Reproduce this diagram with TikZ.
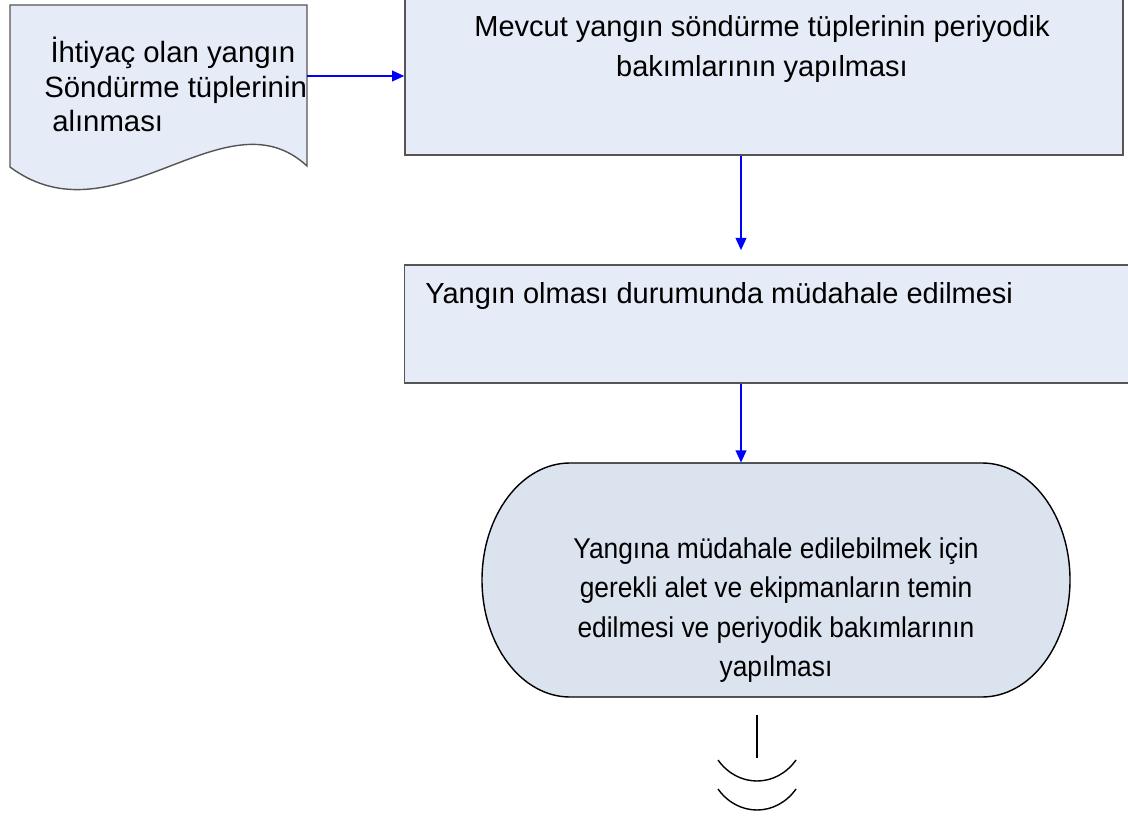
\documentclass[tikz,border=0pt]{standalone}
\usepackage{fontspec}
\setmainfont{Liberation Sans}
\newfontfamily\darfont[FakeStretch=0.92]{Liberation Sans}
\usetikzlibrary{arrows.meta, positioning}

\definecolor{kutuRenk}{RGB}{230,236,247}
\definecolor{ucRenk}{RGB}{219,227,239}
\definecolor{cizgiRenk}{RGB}{85,85,85}

\begin{document}
\begin{tikzpicture}[x=0.02cm, y=-0.02cm,
    kutu/.style={draw=cizgiRenk, fill=kutuRenk, line width=0.8pt, inner sep=0},
    ok/.style={blue, line width=1.2pt, -{Triangle[length=7pt, width=6pt]}},
    yazi/.style={font=\fontsize{16.5}{22.7}\selectfont, inner sep=0}]
  \useasboundingbox (0,0) rectangle (1128,817);

  % belge
  \draw[kutu] (10,5) -- (307,5) -- (307,166)
    .. controls (225,90) and (115,245) .. (10,167) -- cycle;
  \node[yazi, font=\fontsize{16.7}{19.6}\selectfont, align=left, anchor=north west] (ihtiyacyazi) at (44,37)
    {\hspace*{3.5pt}İhtiyaç olan yangın\\Söndürme tüplerinin\\\hspace*{4.5pt}alınması};
  \coordinate (ihtiyac) at (307,76);

  % kutular
  \node[kutu, minimum width=14.36cm, minimum height=3.2cm] (mevcut) at (764,75) {};
  \node[yazi, align=center, anchor=north] (mevcutyazi) at (762,15)
    {Mevcut yangın söndürme tüplerinin periyodik\\bakımlarının yapılması};
  \node[kutu, minimum width=14.9cm, minimum height=2.36cm] (olay) at (777,324) {};
  \node[yazi, anchor=west] (olayyazi) at (425,296)
    {Yangın olması durumunda müdahale edilmesi};

  % son kutu
  \draw[draw=black, fill=ucRenk, line width=0.8pt] (570,463) -- (982,463)
    arc[start angle=-90, end angle=90, x radius=88, y radius=117]
    -- (570,697) arc[start angle=90, end angle=270, x radius=88, y radius=117] -- cycle;
  \node[minimum width=11.76cm, minimum height=4.68cm, inner sep=0] (ekipman) at (776,580) {};
  \node[yazi, font=\darfont\fontsize{16.3}{22.4}\selectfont, align=center] (ekipmanyazi) at (776,610)
    {Yangına müdahale edilebilmek için\\gerekli alet ve ekipmanların temin\\edilmesi ve periyodik bakımlarının\\yapılması};

  % oklar
  \coordinate (oku) at (741,0);
  \draw[ok] (ihtiyac) -- (mevcut.west |- ihtiyac);
  \draw[ok, shorten >=8] (mevcut.south -| oku) -- (olay.north -| oku);
  \draw[ok] (olay.south -| oku) -- (ekipman.north -| oku);

  % devam
  \coordinate (devam) at (757,758);
  \draw[line width=0.8pt, shorten <=10] (ekipman.south -| devam) -- (devam);
  \draw[line width=0.8pt] (718,760) .. controls (738,788) and (776,788) .. (796,760);
  \draw[line width=0.8pt] (718,789) .. controls (738,817) and (776,817) .. (796,789);
\end{tikzpicture}
\end{document}
